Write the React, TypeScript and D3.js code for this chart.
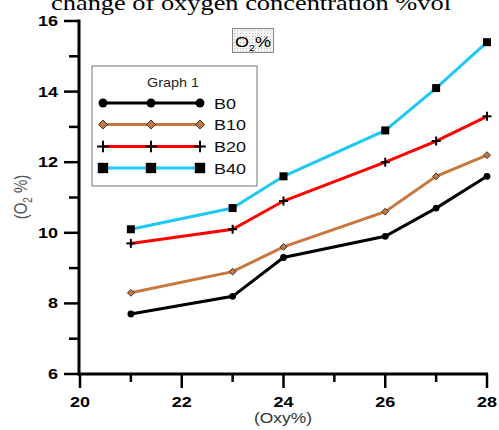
import React from "react";
import * as d3 from "d3";

const xValues = [21, 23, 24, 26, 27, 28];
const seriesNames = ["B0", "B10", "B20", "B40"];
const b0 = [7.7, 8.2, 9.3, 9.9, 10.7, 11.6];
const b10 = [8.3, 8.9, 9.6, 10.6, 11.6, 12.2];
const b20 = [9.7, 10.1, 10.9, 12.0, 12.6, 13.3];
const b40 = [10.1, 10.7, 11.6, 12.9, 14.1, 15.4];
const xMajorTicks = [20, 22, 24, 26, 28];
const xMinorTicks = [21, 23, 25, 27];
const yMajorTicks = [6, 8, 10, 12, 14, 16];
const yMinorTicks = [7, 9, 11, 13, 15];

const W = 499;
const H = 430;
const SANS = "'Liberation Sans', Arial, sans-serif";
const SERIF = "'Liberation Serif', 'Times New Roman', serif";
const SX = 1.2;

const styles: Record<string, { color: string; marker: string }> = {
  B0: { color: "#000000", marker: "circle" },
  B10: { color: "#c8773f", marker: "diamond" },
  B20: { color: "#ff0000", marker: "plus" },
  B40: { color: "#1ec8f5", marker: "square" },
};

function SText({
  x,
  y,
  anchor,
  size,
  weight,
  fill,
  family,
  children,
}: {
  x: number;
  y: number;
  anchor?: string;
  size: number;
  weight?: string;
  fill?: string;
  family?: string;
  children: React.ReactNode;
}) {
  return (
    <g transform={`translate(${x},${y}) scale(${SX},1)`}>
      <text
        x={0}
        y={0}
        textAnchor={anchor || "start"}
        fontFamily={family || SANS}
        fontSize={size}
        fontWeight={weight || "normal"}
        fill={fill || "#000"}
      >
        {children}
      </text>
    </g>
  );
}

function Marker({ type, x, y, big }: { type: string; x: number; y: number; big?: boolean }) {
  const k = big ? 1.3 : 1;
  if (type === "circle") return <circle cx={x} cy={y} r={3.4 * k} fill="#000" />;
  if (type === "square") {
    const s = 8 * k;
    return <rect x={x - s / 2} y={y - s / 2} width={s} height={s} fill="#000" />;
  }
  if (type === "diamond") {
    const p = d3.symbol(d3.symbolDiamond2, 30 * k * k)();
    return <path d={p || ""} transform={`translate(${x},${y})`} fill="#c8773f" stroke="#333" strokeWidth={1} />;
  }
  const a = 4.5 * k;
  return (
    <g stroke="#000" strokeWidth={2}>
      <line x1={x - a} x2={x + a} y1={y} y2={y} />
      <line x1={x} x2={x} y1={y - a} y2={y + a} />
    </g>
  );
}

export default function App() {
  const x = d3.scaleLinear().domain([20, 28]).range([80, 487]);
  const y = d3.scaleLinear().domain([6, 16]).range([374, 21]);
  const data: Record<string, number[]> = { B0: b0, B10: b10, B20: b20, B40: b40 };
  const line = d3
    .line<number>()
    .x((_, i) => x(xValues[i]))
    .y((v) => y(v));

  const legendX = 92;
  const legendY = 66;
  const legendRows = [103, 124.5, 146.5, 168];

  return (
    <svg width={W} height={H} style={{ position: "absolute", left: 0, top: 0 }}>
      <defs>
        <pattern id="dots" width="3" height="3" patternUnits="userSpaceOnUse">
          <rect width="3" height="3" fill="#f4f4f4" />
          <rect width="1" height="1" fill="#bdbdbd" />
        </pattern>
      </defs>
      <rect width={W} height={H} fill="#fff" />
      <SText x={251} y={9.5} anchor="middle" family={SERIF} size={22}>
        change of oxygen concentration %vol
      </SText>

      {/* series */}
      {seriesNames.map((n) => (
        <path key={n} d={line(data[n]) || ""} fill="none" stroke={styles[n].color} strokeWidth={3} />
      ))}
      {seriesNames.map((n) =>
        data[n].map((v, i) => <Marker key={n + i} type={styles[n].marker} x={x(xValues[i])} y={y(v)} />)
      )}

      {/* y axis */}
      <line x1={79} x2={79} y1={y(16) - 1.5} y2={y(6) + 1.5} stroke="#000" strokeWidth={3} />
      {yMajorTicks.map((t) => (
        <g key={t}>
          <line x1={64} x2={79} y1={y(t)} y2={y(t)} stroke="#000" strokeWidth={2.5} />
          <SText x={58} y={y(t) + 5} anchor="end" weight="bold" size={15}>
            {t}
          </SText>
        </g>
      ))}
      {yMinorTicks.map((t) => (
        <line key={t} x1={69} x2={79} y1={y(t)} y2={y(t)} stroke="#000" strokeWidth={2.5} />
      ))}

      {/* x axis */}
      <line x1={78} x2={x(28) + 1} y1={374} y2={374} stroke="#000" strokeWidth={3} />
      {xMajorTicks.map((t) => (
        <g key={t}>
          <line x1={x(t)} x2={x(t)} y1={374} y2={388} stroke="#000" strokeWidth={2.5} />
          <SText x={x(t)} y={407} anchor="middle" weight="bold" size={15}>
            {t}
          </SText>
        </g>
      ))}
      {xMinorTicks.map((t) => (
        <line key={t} x1={x(t)} x2={x(t)} y1={374} y2={382} stroke="#000" strokeWidth={2.5} />
      ))}
      <SText x={283} y={422.5} anchor="middle" size={14.5} fill="#333">
        (Oxy%)
      </SText>
      <g transform={`translate(27,197) rotate(-90) scale(1,${SX})`}>
        <text x={0} y={0} textAnchor="middle" fontFamily={SANS} fontSize={15} fill="#555">
          (O<tspan fontSize={10} dy={4}>2</tspan>
          <tspan dy={-4}> %)</tspan>
        </text>
      </g>

      {/* O2% box */}
      <rect x={232.5} y={28.5} width={41} height={24} fill="url(#dots)" stroke="#888" strokeWidth={1} />
      <SText x={235} y={47} size={15}>
        O<tspan fontSize={9} dy={4}>2</tspan>
        <tspan dy={-4}>%</tspan>
      </SText>

      {/* legend */}
      <rect x={legendX} y={legendY} width={165} height={120} fill="#fff" stroke="#777" strokeWidth={1} />
      <SText x={173} y={87} anchor="middle" size={12} fill="#222">
        Graph 1
      </SText>
      {seriesNames.map((n, i) => (
        <g key={n}>
          <line x1={103} x2={200} y1={legendRows[i]} y2={legendRows[i]} stroke={styles[n].color} strokeWidth={3} />
          {[103, 151, 200].map((mx) => (
            <Marker key={mx} type={styles[n].marker} x={mx} y={legendRows[i]} big />
          ))}
          <SText x={214} y={legendRows[i] + 5.5} size={15} fill="#111">
            {n}
          </SText>
        </g>
      ))}
    </svg>
  );
}
